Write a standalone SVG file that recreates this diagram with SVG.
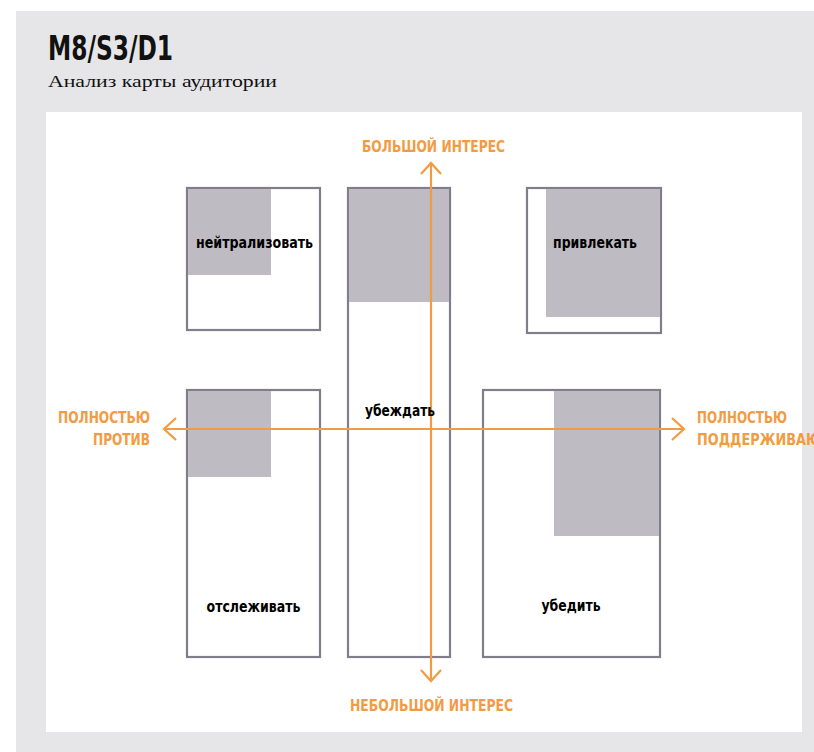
<svg xmlns="http://www.w3.org/2000/svg" width="814" height="752" viewBox="0 0 814 752">
<defs>
<style>
.box{fill:#ffffff;stroke:#827d8b;stroke-width:2.2}
.shade{fill:#bebbc3}
.axis{fill:none;stroke:#f29b43;stroke-width:2.2}
.lbl{font-family:"DejaVu Sans","Noto Sans",sans-serif;font-stretch:condensed;font-weight:bold;font-size:15px;fill:#000000}
.ax{font-family:"DejaVu Sans","Noto Sans",sans-serif;font-stretch:condensed;font-weight:bold;font-size:15px;fill:#f29b43}
</style>
</defs>
<rect x="16" y="11" width="798" height="741" fill="#e6e6e8"/>
<rect x="46" y="112" width="756" height="620" fill="#ffffff"/>
<text x="48" y="60" font-family="DejaVu Sans, sans-serif" font-stretch="condensed" font-weight="bold" font-size="33" fill="#111111" textLength="125" lengthAdjust="spacingAndGlyphs">M8/S3/D1</text>
<text x="48" y="87" font-family="Liberation Serif, serif" font-size="17" fill="#111111" textLength="229" lengthAdjust="spacingAndGlyphs">Анализ карты аудитории</text>

<g id="node-neutralize">
<rect class="box" x="187" y="188" width="133" height="142"/>
<rect class="shade" x="188" y="189" width="83" height="86"/>
<text class="lbl" x="254.5" y="248" text-anchor="middle" textLength="117" lengthAdjust="spacingAndGlyphs">нейтрализовать</text>
</g>
<g id="node-persuade-long">
<rect class="box" x="348" y="188" width="102" height="469"/>
<rect class="shade" x="349" y="189" width="100" height="113"/>
</g>
<g id="node-attract">
<rect class="box" x="527" y="188" width="134" height="145"/>
<rect class="shade" x="546" y="189" width="114" height="128"/>
<text class="lbl" x="595" y="248" text-anchor="middle" textLength="84" lengthAdjust="spacingAndGlyphs">привлекать</text>
</g>
<g id="node-monitor">
<rect class="box" x="187" y="390" width="133" height="267"/>
<rect class="shade" x="188" y="391" width="83" height="86"/>
<text class="lbl" x="253.5" y="612" text-anchor="middle" textLength="94" lengthAdjust="spacingAndGlyphs">отслеживать</text>
</g>
<g id="node-convince">
<rect class="box" x="483" y="390" width="177" height="267"/>
<rect class="shade" x="554" y="391" width="105" height="145"/>
<text class="lbl" x="571" y="611" text-anchor="middle" textLength="59" lengthAdjust="spacingAndGlyphs">убедить</text>
</g>

<g id="connectors">
<line class="axis" x1="431" y1="163" x2="431" y2="681"/>
<polyline class="axis" points="421,174 431,163 441,174"/>
<polyline class="axis" points="421,670 431,681 441,670"/>
<line class="axis" x1="164" y1="429" x2="684" y2="429"/>
<polyline class="axis" points="176,418 164,429 176,440"/>
<polyline class="axis" points="672,418 684,429 672,440"/>
</g>

<g id="node-persuade-label">
<text class="lbl" x="400" y="416" text-anchor="middle" textLength="70" lengthAdjust="spacingAndGlyphs">убеждать</text>
</g>

<g id="axis-labels">
<text class="ax" x="433.5" y="152" text-anchor="middle" textLength="143" lengthAdjust="spacingAndGlyphs">БОЛЬШОЙ ИНТЕРЕС</text>
<text class="ax" x="431.5" y="711" text-anchor="middle" textLength="163" lengthAdjust="spacingAndGlyphs">НЕБОЛЬШОЙ ИНТЕРЕС</text>
<text class="ax" x="150" y="423" text-anchor="end" textLength="92" lengthAdjust="spacingAndGlyphs">ПОЛНОСТЬЮ</text>
<text class="ax" x="150" y="445" text-anchor="end" textLength="57" lengthAdjust="spacingAndGlyphs">ПРОТИВ</text>
<text class="ax" x="697" y="423" textLength="90" lengthAdjust="spacingAndGlyphs">ПОЛНОСТЬЮ</text>
<text class="ax" x="697" y="445" textLength="124" lengthAdjust="spacingAndGlyphs">ПОДДЕРЖИВАЮ</text>
</g>
</svg>
